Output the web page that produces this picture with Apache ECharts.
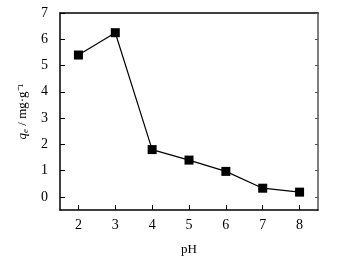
<!DOCTYPE html>
<html>
<head>
<meta charset="utf-8">
<script src="https://cdn.jsdelivr.net/npm/echarts@6/dist/echarts.min.js"></script>
<style>
  html, body { margin: 0; padding: 0; background: #fff; }
  #chart { width: 355px; height: 261px; }
</style>
</head>
<body>
<div id="chart"></div>
<script>
// pH values and adsorption capacity
var phValues = [2, 3, 4, 5, 6, 7, 8];
var qeValues = [5.4, 6.25, 1.8, 1.4, 0.97, 0.33, 0.18];
var xTicks = [2, 3, 4, 5, 6, 7, 8];
var yTicks = [0, 1, 2, 3, 4, 5, 6, 7];

var points = phValues.map(function (p, i) { return [p, qeValues[i]]; });
var font = 'Liberation Serif';

var myChart = echarts.init(document.getElementById('chart'));
myChart.setOption({
  animation: false,
  grid: { left: 60, top: 13, right: 37, bottom: 49 },
  xAxis: [{
    type: 'value',
    min: 1.5, max: 8.5,
    interval: 1,
    name: 'pH',
    nameLocation: 'middle',
    nameGap: 33,
    nameTextStyle: { fontFamily: font, fontSize: 13, color: '#000' },
    axisLine: { onZero: false, lineStyle: { color: '#000', width: 1.5 } },
    axisTick: { inside: true, length: 5, lineStyle: { color: '#000' },
      customValues: xTicks },
    axisLabel: { fontFamily: font, fontSize: 14, color: '#000', margin: 8,
      customValues: xTicks },
    splitLine: { show: false }
  }, {
    type: 'value',
    position: 'top',
    min: 1.5, max: 8.5,
    axisLine: { show: true, onZero: false, lineStyle: { color: '#000', width: 1.5 } },
    axisTick: { show: false },
    axisLabel: { show: false },
    splitLine: { show: false }
  }],
  yAxis: [{
    type: 'value',
    min: -0.5, max: 7,
    name: '{q|q}{e|e}{n| / mg·g⁻¹}',
    nameLocation: 'middle',
    nameGap: 30,
    nameRotate: 90,
    nameTextStyle: {
      fontFamily: font, fontSize: 13, color: '#000',
      rich: {
        q: { fontFamily: font, fontSize: 13, fontStyle: 'italic', color: '#000' },
        e: { fontFamily: font, fontSize: 9, fontStyle: 'italic', color: '#000', verticalAlign: 'bottom', padding: [5, 0, 0, 0] },
        n: { fontFamily: font, fontSize: 13, color: '#000' }
      }
    },
    axisLine: { show: true, onZero: false, lineStyle: { color: '#000', width: 1.5 } },
    axisTick: { inside: true, length: 5, lineStyle: { color: '#000' },
      customValues: yTicks },
    axisLabel: { fontFamily: font, fontSize: 14, color: '#000', margin: 12,
      customValues: yTicks },
    splitLine: { show: false }
  }, {
    type: 'value',
    position: 'right',
    min: -0.5, max: 7,
    axisLine: { show: true, onZero: false, lineStyle: { color: '#555', width: 1.5 } },
    axisTick: { inside: true, length: 3, lineStyle: { color: '#555' },
      customValues: yTicks },
    axisLabel: { show: false },
    splitLine: { show: false }
  }],
  series: [{
    type: 'line',
    data: points,
    symbol: 'rect',
    symbolSize: 9,
    itemStyle: { color: '#000' },
    lineStyle: { color: '#000', width: 1.2 }
  }]
});
</script>
</body>
</html>
